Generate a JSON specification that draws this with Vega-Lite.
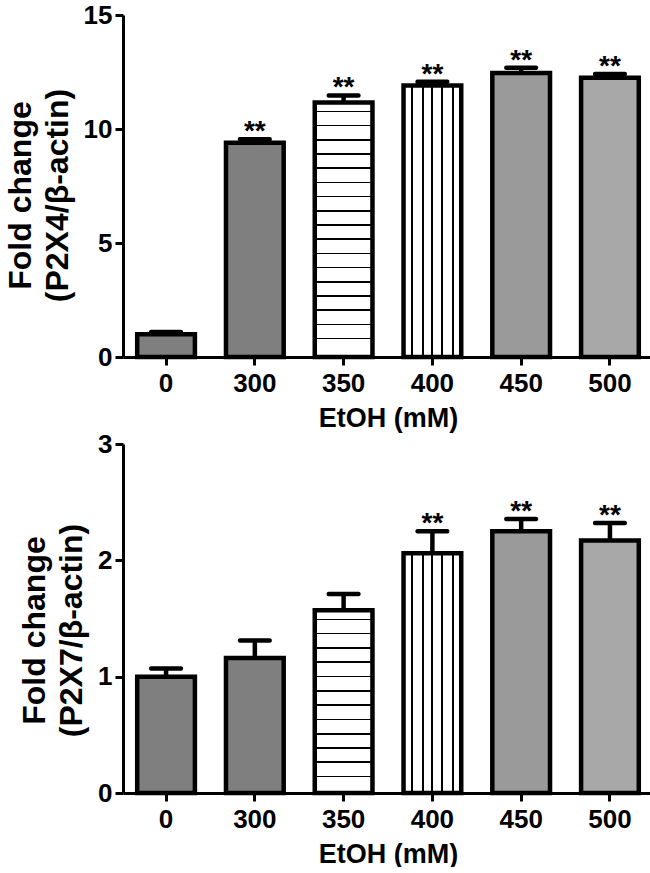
{
  "$schema": "https://vega.github.io/schema/vega-lite/v6.json",
  "background": "white",
  "padding": {"left": 4, "top": 2, "right": 0, "bottom": 0},
  "spacing": 0,
  "config": {
    "view": {"stroke": null},
    "axis": {
      "domainColor": "black", "domainWidth": 3, "tickColor": "black", "tickWidth": 3, "tickSize": 8,
      "labelFont": "Liberation Sans", "labelFontWeight": "bold", "labelFontSize": 26, "labelColor": "black",
      "titleFont": "Liberation Sans", "titleFontWeight": "bold", "titleColor": "black", "grid": false
    },
    "axisX": {"titleFontSize": 27, "titlePadding": 9, "labelAngle": 0, "labelPadding": 5},
    "axisY": {"titleFontSize": 32, "titleLineHeight": 37, "titlePadding": 9, "labelPadding": 3, "format": "d"}
  },
  "vconcat": [
    {
      "width": 530,
      "height": 342,
      "data": {"values": [
        {"c": "0", "v": 1.0, "hi": 1.1, "sig": ""},
        {"c": "300", "v": 9.4, "hi": 9.55, "sig": "**"},
        {"c": "350", "v": 11.16, "hi": 11.47, "sig": "**"},
        {"c": "400", "v": 11.91, "hi": 12.07, "sig": "**"},
        {"c": "450", "v": 12.46, "hi": 12.69, "sig": "**"},
        {"c": "500", "v": 12.25, "hi": 12.41, "sig": "**"}
      ]},
      "encoding": {
        "x": {"field": "c", "type": "nominal", "sort": null,
              "scale": {"paddingInner": 0.35, "paddingOuter": 0.16},
              "axis": {"title": "EtOH (mM)"}}
      },
      "layer": [
        {
          "mark": {"type": "bar", "stroke": "black", "strokeWidth": 4.5},
          "encoding": {
            "y": {"field": "v", "type": "quantitative", "scale": {"domain": [0, 15], "nice": false},
                  "axis": {"values": [0, 5, 10, 15], "title": ["Fold change", "(P2X4/β-actin)"], "titleY": 180}},
            "fill": {
              "condition": [
                {"test": "datum.c === '400'", "value": {"gradient": "linear", "x1": 0, "y1": 0, "x2": 1, "y2": 0, "stops": [
                  {"offset": 0, "color": "white"}, {"offset": 0.132, "color": "white"}, {"offset": 0.132, "color": "black"}, {"offset": 0.168, "color": "black"}, {"offset": 0.168, "color": "white"},
                  {"offset": 0.312, "color": "white"}, {"offset": 0.312, "color": "black"}, {"offset": 0.348, "color": "black"}, {"offset": 0.348, "color": "white"},
                  {"offset": 0.482, "color": "white"}, {"offset": 0.482, "color": "black"}, {"offset": 0.518, "color": "black"}, {"offset": 0.518, "color": "white"},
                  {"offset": 0.652, "color": "white"}, {"offset": 0.652, "color": "black"}, {"offset": 0.688, "color": "black"}, {"offset": 0.688, "color": "white"},
                  {"offset": 0.832, "color": "white"}, {"offset": 0.832, "color": "black"}, {"offset": 0.868, "color": "black"}, {"offset": 0.868, "color": "white"},
                  {"offset": 1, "color": "white"}]}},
                {"test": "datum.c === '350'", "value": {"gradient": "linear", "x1": 0, "y1": 0, "x2": 0, "y2": 1, "stops": [
                  {"offset": 0, "color": "white"},
                  {"offset": 0.0317, "color": "white"}, {"offset": 0.0317, "color": "black"}, {"offset": 0.0377, "color": "black"}, {"offset": 0.0377, "color": "white"},
                  {"offset": 0.0875, "color": "white"}, {"offset": 0.0875, "color": "black"}, {"offset": 0.0935, "color": "black"}, {"offset": 0.0935, "color": "white"},
                  {"offset": 0.1433, "color": "white"}, {"offset": 0.1433, "color": "black"}, {"offset": 0.1493, "color": "black"}, {"offset": 0.1493, "color": "white"},
                  {"offset": 0.1992, "color": "white"}, {"offset": 0.1992, "color": "black"}, {"offset": 0.2052, "color": "black"}, {"offset": 0.2052, "color": "white"},
                  {"offset": 0.255, "color": "white"}, {"offset": 0.255, "color": "black"}, {"offset": 0.261, "color": "black"}, {"offset": 0.261, "color": "white"},
                  {"offset": 0.3108, "color": "white"}, {"offset": 0.3108, "color": "black"}, {"offset": 0.3168, "color": "black"}, {"offset": 0.3168, "color": "white"},
                  {"offset": 0.3667, "color": "white"}, {"offset": 0.3667, "color": "black"}, {"offset": 0.3727, "color": "black"}, {"offset": 0.3727, "color": "white"},
                  {"offset": 0.4225, "color": "white"}, {"offset": 0.4225, "color": "black"}, {"offset": 0.4285, "color": "black"}, {"offset": 0.4285, "color": "white"},
                  {"offset": 0.4783, "color": "white"}, {"offset": 0.4783, "color": "black"}, {"offset": 0.4843, "color": "black"}, {"offset": 0.4843, "color": "white"},
                  {"offset": 0.5342, "color": "white"}, {"offset": 0.5342, "color": "black"}, {"offset": 0.5402, "color": "black"}, {"offset": 0.5402, "color": "white"},
                  {"offset": 0.59, "color": "white"}, {"offset": 0.59, "color": "black"}, {"offset": 0.596, "color": "black"}, {"offset": 0.596, "color": "white"},
                  {"offset": 0.6458, "color": "white"}, {"offset": 0.6458, "color": "black"}, {"offset": 0.6518, "color": "black"}, {"offset": 0.6518, "color": "white"},
                  {"offset": 0.7017, "color": "white"}, {"offset": 0.7017, "color": "black"}, {"offset": 0.7077, "color": "black"}, {"offset": 0.7077, "color": "white"},
                  {"offset": 0.7575, "color": "white"}, {"offset": 0.7575, "color": "black"}, {"offset": 0.7635, "color": "black"}, {"offset": 0.7635, "color": "white"},
                  {"offset": 0.8133, "color": "white"}, {"offset": 0.8133, "color": "black"}, {"offset": 0.8193, "color": "black"}, {"offset": 0.8193, "color": "white"},
                  {"offset": 0.8692, "color": "white"}, {"offset": 0.8692, "color": "black"}, {"offset": 0.8752, "color": "black"}, {"offset": 0.8752, "color": "white"},
                  {"offset": 0.925, "color": "white"}, {"offset": 0.925, "color": "black"}, {"offset": 0.931, "color": "black"}, {"offset": 0.931, "color": "white"},
                  {"offset": 1, "color": "white"}]}},
                {"test": "datum.c === '450'", "value": "#9a9a9a"},
                {"test": "datum.c === '500'", "value": "#a8a8a8"}
              ],
              "value": "#7f7f7f"
            }
          }
        },
        {
          "mark": {"type": "rule", "color": "black", "strokeWidth": 4.5},
          "encoding": {"y": {"field": "v", "type": "quantitative"}, "y2": {"field": "hi"}}
        },
        {
          "mark": {"type": "tick", "color": "black", "opacity": 1, "size": 34, "thickness": 4.5, "cornerRadius": 2},
          "encoding": {"y": {"field": "hi", "type": "quantitative"}}
        },
        {
          "mark": {"type": "text", "font": "Liberation Sans", "fontWeight": "bold", "fontSize": 28, "baseline": "alphabetic", "dy": 1, "color": "black"},
          "encoding": {"y": {"field": "hi", "type": "quantitative"}, "text": {"field": "sig"}}
        }
      ]
    },
    {
      "width": 530,
      "height": 349,
      "data": {"values": [
        {"c": "0", "v": 1.0, "hi": 1.07, "sig": ""},
        {"c": "300", "v": 1.16, "hi": 1.31, "sig": ""},
        {"c": "350", "v": 1.57, "hi": 1.71, "sig": ""},
        {"c": "400", "v": 2.06, "hi": 2.25, "sig": "**"},
        {"c": "450", "v": 2.25, "hi": 2.355, "sig": "**"},
        {"c": "500", "v": 2.17, "hi": 2.32, "sig": "**"}
      ]},
      "encoding": {
        "x": {"field": "c", "type": "nominal", "sort": null,
              "scale": {"paddingInner": 0.35, "paddingOuter": 0.16},
              "axis": {"title": "EtOH (mM)"}}
      },
      "layer": [
        {
          "mark": {"type": "bar", "stroke": "black", "strokeWidth": 4.5},
          "encoding": {
            "y": {"field": "v", "type": "quantitative", "scale": {"domain": [0, 3], "nice": false},
                  "axis": {"values": [0, 1, 2, 3], "title": ["Fold change", "(P2X7/β-actin)"], "titleY": 186}},
            "fill": {
              "condition": [
                {"test": "datum.c === '400'", "value": {"gradient": "linear", "x1": 0, "y1": 0, "x2": 1, "y2": 0, "stops": [
                  {"offset": 0, "color": "white"}, {"offset": 0.132, "color": "white"}, {"offset": 0.132, "color": "black"}, {"offset": 0.168, "color": "black"}, {"offset": 0.168, "color": "white"},
                  {"offset": 0.312, "color": "white"}, {"offset": 0.312, "color": "black"}, {"offset": 0.348, "color": "black"}, {"offset": 0.348, "color": "white"},
                  {"offset": 0.482, "color": "white"}, {"offset": 0.482, "color": "black"}, {"offset": 0.518, "color": "black"}, {"offset": 0.518, "color": "white"},
                  {"offset": 0.652, "color": "white"}, {"offset": 0.652, "color": "black"}, {"offset": 0.688, "color": "black"}, {"offset": 0.688, "color": "white"},
                  {"offset": 0.832, "color": "white"}, {"offset": 0.832, "color": "black"}, {"offset": 0.868, "color": "black"}, {"offset": 0.868, "color": "white"},
                  {"offset": 1, "color": "white"}]}},
                {"test": "datum.c === '350'", "value": {"gradient": "linear", "x1": 0, "y1": 0, "x2": 0, "y2": 1, "stops": [
                  {"offset": 0, "color": "white"},
                  {"offset": 0.0449, "color": "white"}, {"offset": 0.0449, "color": "black"}, {"offset": 0.0537, "color": "black"}, {"offset": 0.0537, "color": "white"},
                  {"offset": 0.1231, "color": "white"}, {"offset": 0.1231, "color": "black"}, {"offset": 0.1319, "color": "black"}, {"offset": 0.1319, "color": "white"},
                  {"offset": 0.2014, "color": "white"}, {"offset": 0.2014, "color": "black"}, {"offset": 0.2102, "color": "black"}, {"offset": 0.2102, "color": "white"},
                  {"offset": 0.2797, "color": "white"}, {"offset": 0.2797, "color": "black"}, {"offset": 0.2885, "color": "black"}, {"offset": 0.2885, "color": "white"},
                  {"offset": 0.3579, "color": "white"}, {"offset": 0.3579, "color": "black"}, {"offset": 0.3667, "color": "black"}, {"offset": 0.3667, "color": "white"},
                  {"offset": 0.4362, "color": "white"}, {"offset": 0.4362, "color": "black"}, {"offset": 0.445, "color": "black"}, {"offset": 0.445, "color": "white"},
                  {"offset": 0.5145, "color": "white"}, {"offset": 0.5145, "color": "black"}, {"offset": 0.5233, "color": "black"}, {"offset": 0.5233, "color": "white"},
                  {"offset": 0.5927, "color": "white"}, {"offset": 0.5927, "color": "black"}, {"offset": 0.6015, "color": "black"}, {"offset": 0.6015, "color": "white"},
                  {"offset": 0.671, "color": "white"}, {"offset": 0.671, "color": "black"}, {"offset": 0.6798, "color": "black"}, {"offset": 0.6798, "color": "white"},
                  {"offset": 0.7493, "color": "white"}, {"offset": 0.7493, "color": "black"}, {"offset": 0.7581, "color": "black"}, {"offset": 0.7581, "color": "white"},
                  {"offset": 0.8275, "color": "white"}, {"offset": 0.8275, "color": "black"}, {"offset": 0.8363, "color": "black"}, {"offset": 0.8363, "color": "white"},
                  {"offset": 0.9058, "color": "white"}, {"offset": 0.9058, "color": "black"}, {"offset": 0.9146, "color": "black"}, {"offset": 0.9146, "color": "white"},
                  {"offset": 1, "color": "white"}]}},
                {"test": "datum.c === '450'", "value": "#9a9a9a"},
                {"test": "datum.c === '500'", "value": "#a8a8a8"}
              ],
              "value": "#7f7f7f"
            }
          }
        },
        {
          "mark": {"type": "rule", "color": "black", "strokeWidth": 4.5},
          "encoding": {"y": {"field": "v", "type": "quantitative"}, "y2": {"field": "hi"}}
        },
        {
          "mark": {"type": "tick", "color": "black", "opacity": 1, "size": 34, "thickness": 4.5, "cornerRadius": 2},
          "encoding": {"y": {"field": "hi", "type": "quantitative"}}
        },
        {
          "mark": {"type": "text", "font": "Liberation Sans", "fontWeight": "bold", "fontSize": 28, "baseline": "alphabetic", "dy": 1, "color": "black"},
          "encoding": {"y": {"field": "hi", "type": "quantitative"}, "text": {"field": "sig"}}
        }
      ]
    }
  ]
}
